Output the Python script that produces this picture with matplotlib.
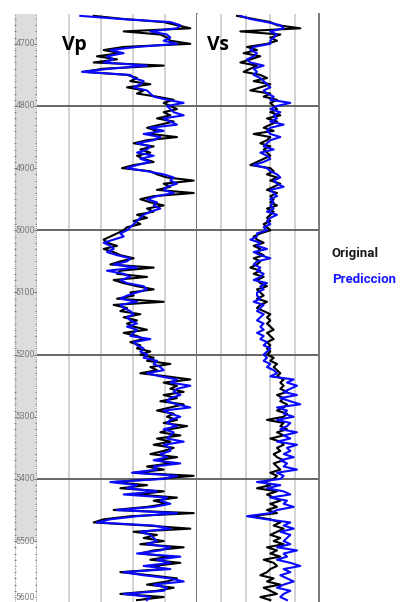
import numpy as np
import matplotlib
matplotlib.use("Agg")
import matplotlib.pyplot as plt

# depth samples (m) and velocity logs (m/s)
depth = np.arange(4655, 5600, 5)

vp_original = [
    3700, 4600, 5800, 6200, 6600, 4600, 5700, 5900, 6000, 6600,
    4600, 4000, 4500, 3800, 4400, 3700, 5800, 4000, 3400, 4700,
    5000, 4800, 5400, 4700, 5200, 5000, 5600, 6100, 5800, 6000,
    6200, 5800, 6000, 5600, 6100, 5700, 5300, 5600, 5400, 6200,
    5300, 4900, 5500, 5100, 5400, 5000, 5200, 5500, 4900, 4550,
    5400, 5600, 5900, 6700, 5800, 6000, 5600, 6700, 5500, 5100,
    5400, 5800, 5300, 5500, 5000, 5300, 4900, 5100, 4700, 4600,
    4400, 4200, 4000, 4100, 4400, 4000, 4300, 4500, 4900, 4500,
    4200, 5500, 4500, 4400, 5300, 4300, 4600, 5000, 5500, 4800,
    4900, 4400, 5800, 4300, 4700, 4500, 5100, 4600, 5000, 4700,
    4900, 5300, 4600, 5000, 5200, 4800, 5100, 5000, 5400, 5100,
    5500, 5300, 6000, 5400, 5600, 5100, 5900, 6600, 5800, 6200,
    6000, 6400, 5800, 6200, 5700, 6400, 6000, 5600, 6100, 5900,
    6200, 5800, 6500, 6000, 5700, 6300, 5600, 6000, 5500, 6100,
    5800, 5400, 6200, 5600, 6000, 5300, 5800, 4900, 6700, 5600,
    4300, 5300, 4500, 5800, 5000, 6200, 5500, 5900, 5300, 4300,
    6700, 4800, 4000, 3700, 5300, 6600, 4900, 5600, 5200, 5800,
    5100, 6400, 5500, 5100, 6000, 5400, 6300, 5500, 5800, 4500,
    5400, 6200, 5900, 5300, 6100, 5600, 4500, 5800, 5000,
]
vp_prediccion = [
    3300, 4500, 6000, 6300, 6200, 5400, 5900, 6000, 5800, 6200,
    5000, 4200, 4600, 4100, 4300, 4000, 5300, 4200, 3350, 4800,
    4900, 5200, 5100, 4900, 5300, 5400, 5500, 5900, 6400, 5900,
    6000, 6100, 6400, 5800, 6000, 6200, 5400, 5800, 5200, 5700,
    5500, 5000, 5400, 5300, 5000, 5500, 5100, 5400, 5000, 4700,
    5300, 5800, 6100, 6000, 6200, 5900, 5800, 6100, 5600, 5300,
    5600, 5500, 5700, 5400, 5200, 5100, 5000, 4900, 4800, 4700,
    4500, 4600, 4300, 4000, 4200, 4300, 4100, 4400, 4800, 4700,
    4300, 5000, 4100, 4600, 4800, 4500, 4700, 5200, 5300, 5000,
    4700, 4500, 5000, 4500, 4600, 4800, 4900, 4700, 4800, 5000,
    4700, 5000, 4900, 4800, 5400, 4900, 5000, 5200, 5100, 5300,
    5200, 5600, 5500, 5700, 5800, 5300, 5700, 6200, 6000, 6600,
    6200, 6100, 6300, 6000, 5900, 6200, 6600, 5800, 6000, 6300,
    6000, 5900, 6200, 5800, 6100, 6000, 5900, 6400, 5800, 6000,
    6000, 5700, 5900, 5500, 6300, 5500, 5600, 4850, 6200, 5800,
    4200, 5000, 4700, 5600, 4600, 5900, 5700, 6000, 5500, 4400,
    6200, 5000, 4200, 3800, 5500, 6000, 5100, 5400, 5500, 5600,
    5300, 6000, 5700, 5000, 6300, 5600, 6000, 5200, 6000, 4600,
    5200, 6000, 6400, 5500, 5900, 5800, 4600, 5400, 5300,
]
vs_original = [
    2000, 2250, 2500, 2600, 2950, 2050, 2650, 2500, 2600, 2450,
    2150, 2300, 2100, 2350, 2200, 2050, 2300, 2200, 2100, 2350,
    2450, 2250, 2500, 2350, 2200, 2500, 2400, 2600, 2500, 2550,
    2600, 2500, 2650, 2450, 2600, 2500, 2400, 2550, 2250, 2500,
    2450, 2350, 2500, 2400, 2450, 2500, 2400, 2300, 2200, 2500,
    2550, 2450, 2600, 2500, 2650, 2550, 2450, 2600, 2500, 2550,
    2500, 2600, 2450, 2550, 2500, 2450, 2500, 2400, 2450, 2500,
    2350, 2250, 2300, 2400, 2250, 2350, 2300, 2400, 2250, 2350,
    2300, 2200, 2350, 2250, 2400, 2300, 2350, 2450, 2300, 2350,
    2400, 2300, 2450, 2350, 2300, 2400, 2500, 2450, 2500, 2450,
    2500, 2550, 2450, 2500, 2550, 2450, 2500, 2450, 2500, 2450,
    2550, 2500, 2600, 2550, 2600, 2650, 2600, 2700, 2650, 2700,
    2650, 2750, 2600, 2700, 2650, 2750, 2700, 2600, 2750, 2700,
    2450, 2700, 2650, 2750, 2600, 2700, 2500, 2650, 2700, 2600,
    2650, 2550, 2600, 2700, 2550, 2600, 2650, 2500, 2600, 2550,
    2400, 2500, 2300, 2600, 2450, 2550, 2650, 2500, 2600, 2450,
    2600, 2200, 2500, 2650, 2550, 2700, 2600, 2500, 2650, 2550,
    2700, 2450, 2600, 2500, 2650, 2400, 2550, 2600, 2500, 2450,
    2350, 2550, 2450, 2650, 2400, 2500, 2600, 2350, 2500,
]
vs_prediccion = [
    2050, 2200, 2450, 2650, 2700, 2500, 2600, 2550, 2500, 2500,
    2250, 2200, 2300, 2250, 2150, 2200, 2400, 2250, 2300, 2250,
    2350, 2400, 2450, 2500, 2400, 2450, 2550, 2500, 2800, 2600,
    2500, 2650, 2550, 2600, 2500, 2700, 2500, 2450, 2500, 2650,
    2500, 2450, 2400, 2550, 2350, 2450, 2500, 2400, 2250, 2450,
    2500, 2600, 2650, 2550, 2600, 2700, 2500, 2550, 2600, 2500,
    2550, 2500, 2550, 2450, 2600, 2500, 2450, 2500, 2400, 2450,
    2300, 2300, 2200, 2350, 2300, 2450, 2250, 2350, 2500, 2300,
    2250, 2350, 2300, 2400, 2350, 2250, 2450, 2350, 2400, 2300,
    2300, 2350, 2250, 2400, 2350, 2300, 2400, 2350, 2300, 2400,
    2350, 2400, 2300, 2400, 2350, 2450, 2400, 2500, 2450, 2400,
    2450, 2400, 2500, 2450, 2550, 2600, 2500, 2850, 2750, 2900,
    2800, 2700, 2900, 2650, 2800, 2950, 2600, 2750, 2700, 2850,
    2600, 2800, 2750, 2650, 2900, 2700, 2800, 2600, 2900, 2750,
    2800, 2700, 2850, 2650, 2750, 2700, 2900, 2600, 2700, 2650,
    2300, 2650, 2450, 2700, 2800, 2500, 2750, 2700, 2850, 2600,
    2500, 2150, 2450, 2800, 2700, 2850, 2650, 2800, 2750, 2700,
    2800, 2600, 2900, 2700, 2750, 2600, 2800, 2950, 2700, 2800,
    2650, 2750, 2850, 2700, 2600, 2800, 2700, 2650, 2750,
]
depth_labels = [4700, 4800, 4900, 5000, 5100, 5200, 5300, 5400, 5500, 5600]
marker_depths = [4800, 5000, 5200, 5400]

W, H = 409, 602
fig = plt.figure(figsize=(W / 100, H / 100), dpi=100)
top_px, bot_px = 14, 602
y0 = 1 - bot_px / H
hh = (bot_px - top_px) / H

ax_d = fig.add_axes([14 / W, y0, 23 / W, hh])
ax_p = fig.add_axes([37 / W, y0, 160 / W, hh], sharey=ax_d)
ax_s = fig.add_axes([197 / W, y0, 122 / W, hh], sharey=ax_d)
ax_d.set_ylim(5598, 4652)

# depth track
ax_d.set_xlim(0, 1)
ax_d.fill_between([0.04, 0.96], 4652, 5500, color="#dddddd", lw=0)
for s in ax_d.spines.values():
    s.set_visible(False)
ax_d.set_xticks([])
ax_d.set_yticks([])
for x in (0.04, 0.96):
    ax_d.axvline(x, color="#999999", lw=0.8, ls=(0, (1, 1)))
ticks10 = np.arange(4660, 5600, 10)
ax_d.hlines(ticks10, 0.0, 0.1, color="#888888", lw=0.7)
ax_d.hlines(ticks10, 0.9, 1.0, color="#888888", lw=0.7)
for d in depth_labels:
    ax_d.hlines(d, 0.0, 0.12, color="#777777", lw=0.8)
    ax_d.hlines(d, 0.88, 1.0, color="#777777", lw=0.8)
    ax_d.text(0.5, min(d, 5591), str(d), ha="center", va="center", fontsize=6.2,
              color="#7a7a7a", family=["Roboto", "DejaVu Sans"])

# velocity tracks
for ax, lim, orig, pred in [(ax_p, (2000, 6800), vp_original, vp_prediccion),
                            (ax_s, (1400, 3230), vs_original, vs_prediccion)]:
    ax.set_xlim(*lim)
    for gx in np.linspace(lim[0], lim[1], 6)[1:-1]:
        ax.axvline(gx, color="#cfcfcf", lw=1.3, zorder=0)
    for d in marker_depths:
        ax.axhline(d, color="#5a5a5a", lw=1.3, zorder=1)
    ax.plot(orig, depth, color="black", lw=1.5, zorder=2)
    ax.plot(pred, depth, color="#0a0aff", lw=1.5, zorder=3)
    ax.set_xticks([])
    ax.tick_params(left=False, labelleft=False)
    for side in ("top", "left", "bottom"):
        ax.spines[side].set_visible(False)
    ax.spines["right"].set_color("#6e6e6e")
    ax.spines["right"].set_linewidth(1.3)

fig.text(62 / W, 1 - 50 / H, "Vp", fontsize=14, fontweight="bold",
         family=["Open Sans", "DejaVu Sans"], va="baseline")
fig.text(207 / W, 1 - 50 / H, "Vs", fontsize=14, fontweight="bold",
         family=["Open Sans", "DejaVu Sans"], va="baseline")

fig.text(332 / W, 1 - 257 / H, "Original", fontsize=9.5, fontweight="bold",
         color="#1a1a1a", family=["Roboto", "DejaVu Sans"], va="baseline")
fig.text(332 / W, 1 - 283 / H, "Prediccion", fontsize=9.5, fontweight="bold",
         color="#1515ff", family=["Roboto", "DejaVu Sans"], va="baseline")

fig.savefig("out.png", dpi=100)
